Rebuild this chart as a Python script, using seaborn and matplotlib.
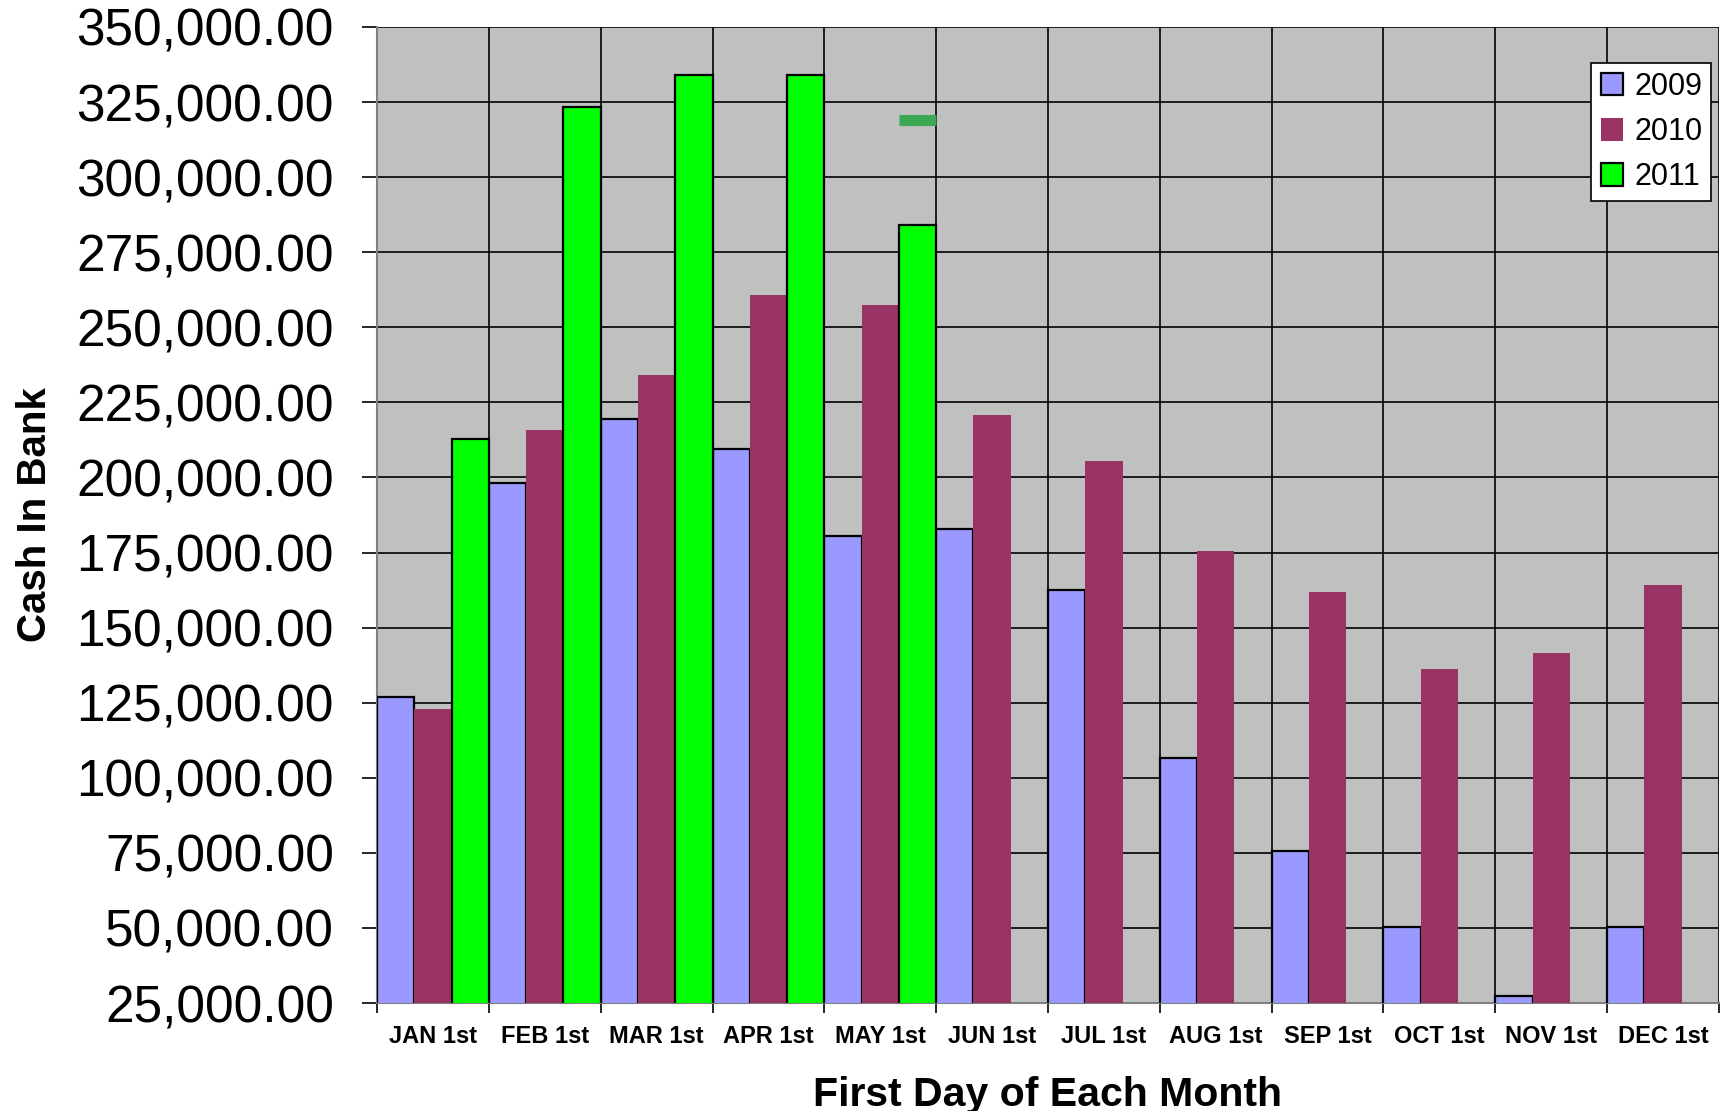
import matplotlib
matplotlib.use("Agg")
import matplotlib.pyplot as plt
import matplotlib.ticker as mticker
import numpy as np
import pandas as pd
import seaborn as sns

# Monthly cash balances (first day of each month)
months = ["JAN 1st", "FEB 1st", "MAR 1st", "APR 1st", "MAY 1st", "JUN 1st",
          "JUL 1st", "AUG 1st", "SEP 1st", "OCT 1st", "NOV 1st", "DEC 1st"]
years = ["2009", "2010", "2011"]
cash_2009 = [127000, 198300, 219400, 209600, 180400, 182900,
             162500, 106700, 75700, 50200, 27200, 50200]
cash_2010 = [122800, 215800, 234000, 260600, 257300, 220900,
             205600, 175600, 161800, 136200, 141400, 164300]
cash_2011 = [212800, 323400, 333900, 333900, 284000, np.nan,
             np.nan, np.nan, np.nan, np.nan, np.nan, np.nan]
# stray marker drawn in the MAY 2011 slot
may_flag_value = 319000

year_colors = {"2009": "#9999FF", "2010": "#993366", "2011": "#00FF00"}
year_edges = {"2009": "black", "2010": "none", "2011": "black"}

rows = []
for yr, vals in zip(years, [cash_2009, cash_2010, cash_2011]):
    for m, v in zip(months, vals):
        if not np.isnan(v):
            rows.append({"Month": m, "Year": yr, "Cash": v})
df = pd.DataFrame(rows)

sns.set_style("white")
plt.rcParams["font.family"] = ["Liberation Sans", "DejaVu Sans"]
plt.rcParams["text.color"] = "black"
plt.rcParams["axes.labelcolor"] = "black"
plt.rcParams["xtick.color"] = "black"
plt.rcParams["ytick.color"] = "black"

fig = plt.figure(figsize=(17.2, 11.11), dpi=100)
ax = fig.add_axes([0.2192, 0.0972, 0.7802, 0.8785])
ax.set_facecolor("#C0C0C0")

sns.barplot(data=df, x="Month", y="Cash", hue="Year", order=months,
            hue_order=years, palette=year_colors, width=1.0, gap=0,
            saturation=1.0, errorbar=None, legend=False, ax=ax, zorder=3)

for yr, cont in zip(years, ax.containers):
    for p in cont.patches:
        if year_edges[yr] == "none":
            p.set_edgecolor("none")
            p.set_linewidth(0)
        else:
            p.set_edgecolor("black")
            p.set_linewidth(1.6)

# short green dash in the MAY 2011 slot
may_bar = ax.containers[2].patches[months.index("MAY 1st")]
ax.hlines(may_flag_value, may_bar.get_x(), may_bar.get_x() + may_bar.get_width(),
          colors="#3DA853", linewidth=8, zorder=4)

ax.set_xlim(-0.5, len(months) - 0.5)
ax.set_ylim(25000, 350000)
ax.yaxis.set_major_locator(mticker.MultipleLocator(25000))
ax.yaxis.set_major_formatter(mticker.FuncFormatter(lambda v, _: f"{v:,.2f}"))

ax.set_xticks(range(len(months)))
ax.set_xticklabels(months, fontsize=17, fontweight="bold")
ax.set_xticks(np.arange(-0.5, len(months), 1.0), minor=True)
ax.tick_params(axis="x", which="major", length=0, pad=16)
ax.tick_params(axis="x", which="minor", length=7, width=1.2, color="black",
               direction="out")
ax.tick_params(axis="y", which="major", length=11, width=1.2, color="black",
               direction="out", labelsize=37, pad=20)
ax.tick_params(left=True, bottom=True, which="both")

ax.set_axisbelow(True)
ax.grid(True, axis="y", which="major", color="black", linewidth=1.2)
ax.grid(True, axis="x", which="minor", color="black", linewidth=1.2)
ax.grid(False, axis="x", which="major")

for side in ["top", "right"]:
    ax.spines[side].set_visible(False)
for side in ["left", "bottom"]:
    ax.spines[side].set_color("#808080")
    ax.spines[side].set_linewidth(1.5)

ax.set_xlabel("First Day of Each Month", fontsize=29.5, fontweight="bold",
              labelpad=20)
ax.set_ylabel("Cash In Bank", fontsize=29, fontweight="bold")
ax.yaxis.set_label_coords(-0.241, 0.5)

leg = ax.legend(ax.containers, years, loc="upper right",
                bbox_to_anchor=(0.9944, 0.9636), fontsize=22, frameon=True,
                fancybox=False, edgecolor="black", framealpha=1.0,
                handlelength=0.75, handleheight=0.75, handletextpad=0.35,
                borderpad=0.3, labelspacing=0.5, borderaxespad=0)
leg.get_frame().set_linewidth(1.2)

fig.savefig("out.png", dpi=100)
